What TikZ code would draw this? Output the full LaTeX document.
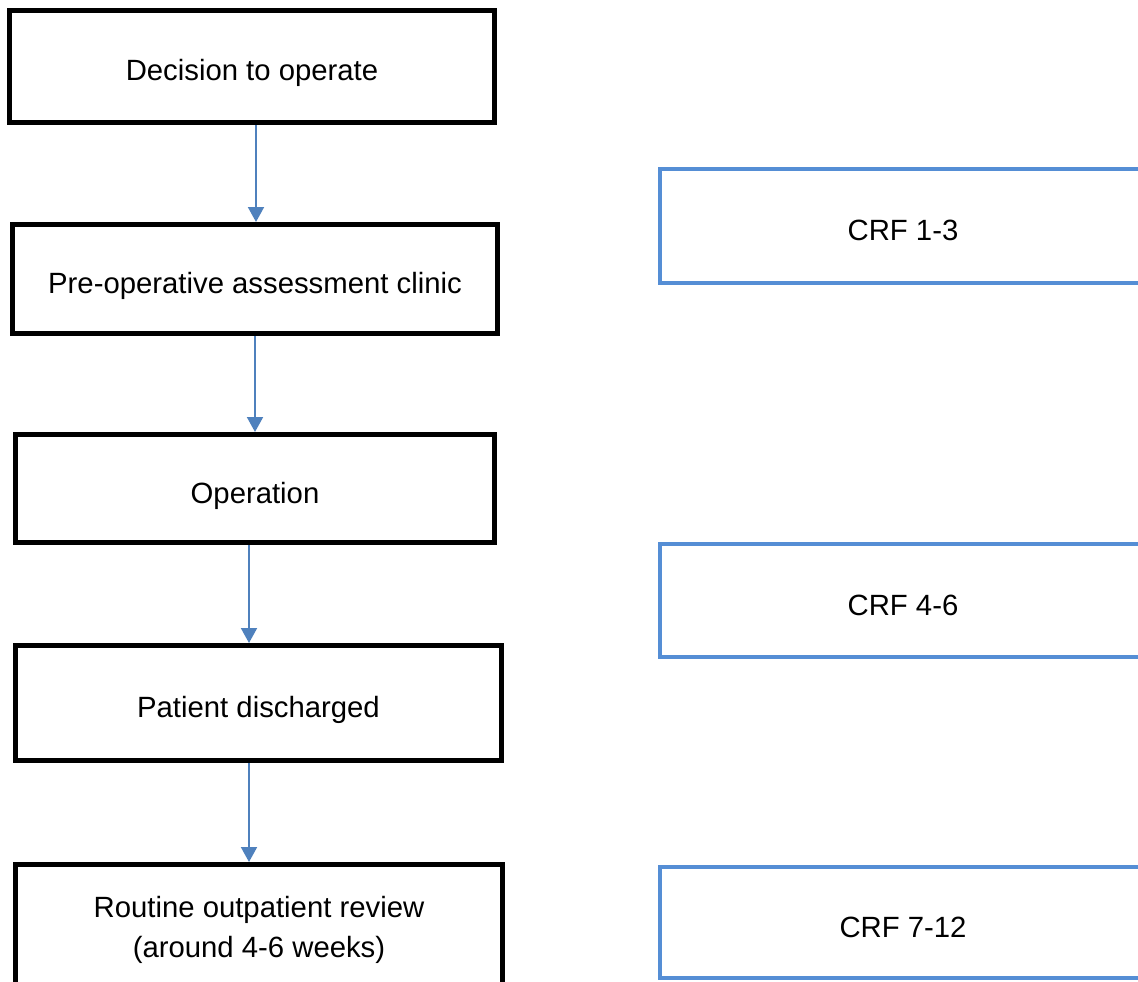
\documentclass[tikz,border=0pt]{standalone}
\usepackage{fontspec}
\setmainfont{Liberation Sans}
\usetikzlibrary{arrows.meta}
\definecolor{crfblue}{RGB}{85,142,213}
\definecolor{flowblue}{RGB}{79,129,189}

\begin{document}
\begin{tikzpicture}[x=1pt,y=-1pt,
  stage/.style={draw=black,line width=5pt,inner sep=0pt,align=center,font=\fontsize{29.3}{40}\selectfont},
  oneline/.style={text height=29pt,text depth=0pt},
  crf/.style={draw=crfblue,line width=4pt,inner sep=0pt,minimum width=486pt,oneline,font=\fontsize{29.3}{40}\selectfont},
  flow/.style={draw=flowblue,line width=2pt,-{Triangle[width=16pt,length=15pt]}}]
  \useasboundingbox (0,0) rectangle (1138,982);
  \path (252,66.5) node[stage,oneline,minimum width=485pt,minimum height=112pt] (decision) {Decision to operate}
  (255,279) node[stage,oneline,minimum width=485pt,minimum height=109pt] (preop) {Pre-operative assessment clinic}
  (255,488.5) node[stage,oneline,minimum width=479pt,minimum height=108pt] (operation) {Operation}
  (258.5,703) node[stage,oneline,minimum width=486pt,minimum height=115pt] (discharged) {Patient discharged}
  (259,930) node[stage,minimum width=487pt,minimum height=131pt] (review) {Routine outpatient review\\(around 4-6 weeks)};
  \path (903,226) node[crf,minimum height=114pt] (crfa) {CRF 1-3}
  (903,600.5) node[crf,minimum height=113pt] (crfb) {CRF 4-6}
  (903,922.5) node[crf,minimum height=111pt] (crfc) {CRF 7-12};
  \draw[flow] ([xshift=4pt]decision.south) -- ([xshift=1pt]preop.north);
  \draw[flow] (preop.south) -- (operation.north);
  \draw[flow] ([xshift=-6pt]operation.south) -- ([xshift=-9.5pt]discharged.north);
  \draw[flow] ([xshift=-9.5pt]discharged.south) -- ([xshift=-10pt]review.north);
\end{tikzpicture}
\end{document}
